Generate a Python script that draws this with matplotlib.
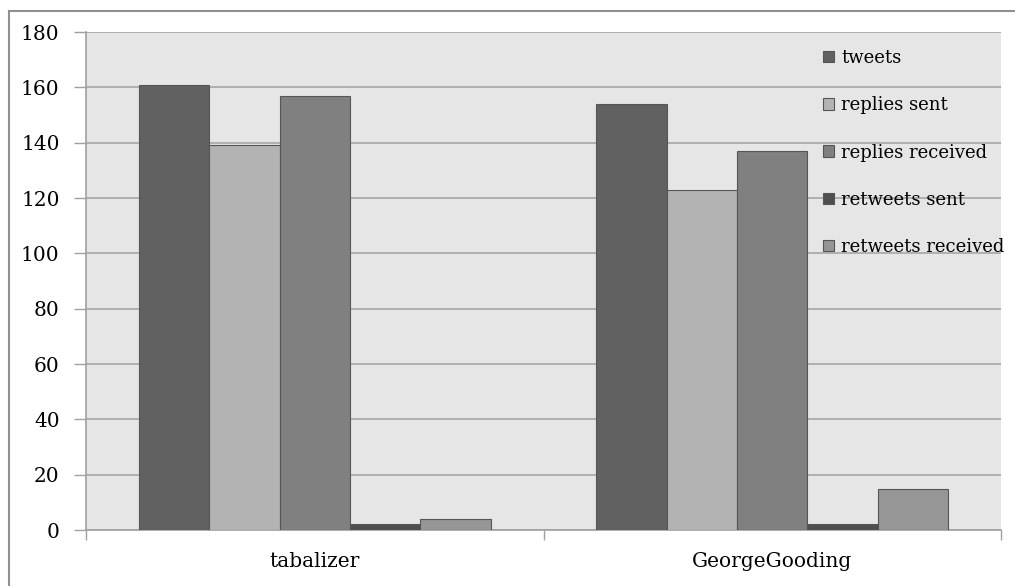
import matplotlib.pyplot as plt
import numpy as np
from matplotlib.lines import Line2D

users = ['tabalizer', 'GeorgeGooding']
series = ['tweets', 'replies sent', 'replies received', 'retweets sent', 'retweets received']
tweets = [161, 154]
replies_sent = [139, 123]
replies_received = [157, 137]
retweets_sent = [2, 2]
retweets_received = [4, 15]
colors = ['#616161', '#b3b3b3', '#808080', '#4f4f4f', '#969696']

plt.rcParams['font.family'] = ['DejaVu Serif']

W, H = 1015, 586
fig = plt.figure(figsize=(W / 100, H / 100), dpi=100)
ax = fig.add_axes([86 / W, (H - 530) / H, 915 / W, 498 / H])
ax.set_facecolor('#e6e6e6')

values = [tweets, replies_sent, replies_received, retweets_sent, retweets_received]
x = np.arange(len(users))
bw = 0.154
for i, (name, vals) in enumerate(zip(series, values)):
    ax.bar(x + (i - 2) * bw, vals, bw, color=colors[i], edgecolor='#555555',
           linewidth=0.8, label=name, zorder=3)

ax.set_xlim(-0.5, 1.5)
ax.set_ylim(0, 180)
ax.set_yticks(range(0, 181, 20))
ax.yaxis.grid(True, color='#a6a6a6', linewidth=1.2, zorder=0)
ax.set_axisbelow(True)

# category labels centred, separator ticks at group boundaries
ax.set_xticks(x)
ax.set_xticklabels(users, fontsize=14.5)
ax.tick_params(axis='x', length=0, pad=16)
ax.set_xticks([-0.5, 0.5, 1.5], minor=True)
ax.tick_params(axis='x', which='minor', length=7, color='#a0a0a0', width=1)
ax.tick_params(axis='y', length=9, color='#a0a0a0', width=1, labelsize=14.5, pad=10)

for side in ['top', 'right']:
    ax.spines[side].set_visible(False)
for side in ['left', 'bottom']:
    ax.spines[side].set_color('#a0a0a0')
    ax.spines[side].set_linewidth(1.2)

leg = ax.legend(loc='upper left', bbox_to_anchor=(823 / W, 1 - 49 / H),
                bbox_transform=fig.transFigure, frameon=False, fontsize=13,
                handlelength=0.6, handleheight=0.6, handletextpad=0.4,
                labelspacing=1.62, borderpad=0, borderaxespad=0)
for p in leg.get_patches():
    p.set_edgecolor('#555555')

# outer chart frame (top and left edges)
fig.add_artist(Line2D([9 / W, 1], [1 - 11 / H, 1 - 11 / H], color='#909090',
                      linewidth=1.5, transform=fig.transFigure))
fig.add_artist(Line2D([9 / W, 9 / W], [0, 1 - 11 / H], color='#909090',
                      linewidth=1.5, transform=fig.transFigure))

fig.savefig('out.png', dpi=100)
